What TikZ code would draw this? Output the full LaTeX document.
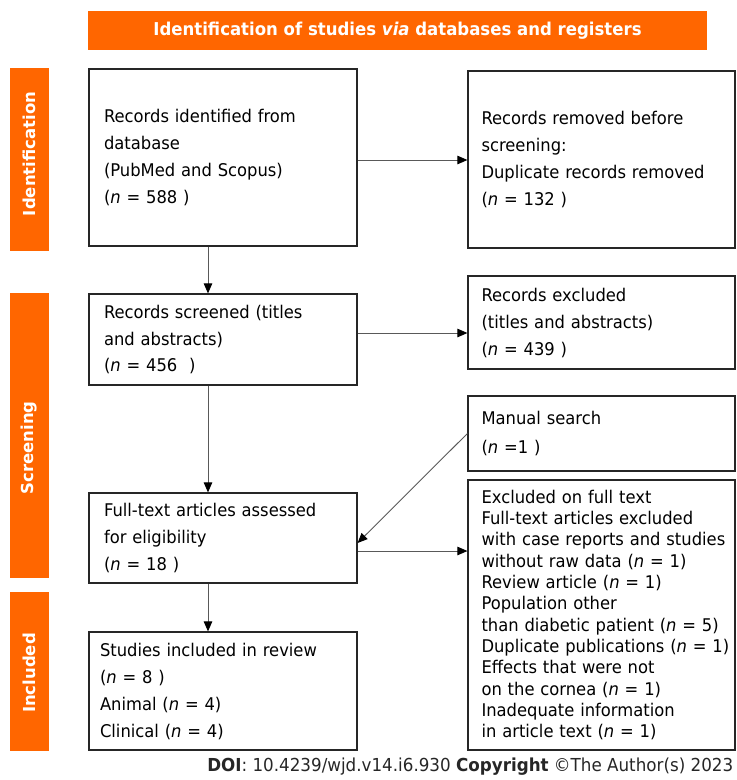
\documentclass[tikz,border=0pt]{standalone}
\usepackage{fontspec}
\setmainfont[FakeStretch=0.935]{DejaVu Sans}
\newfontfamily\stagefont{DejaVu Sans}
\usetikzlibrary{arrows.meta}
\definecolor{prismaorange}{RGB}{255,102,0}

\begin{document}
\def\boxw{268pt}
\def\stepgap{-15pt}

\begin{tikzpicture}[x=1pt,y=-1pt,->,>={Triangle[length=10pt,width=8.5pt,black]},line width=0.9pt,draw=black!65]
    \tikzstyle{every node}=[font=\fontsize{17.5}{27}\selectfont]
    \tikzstyle{bar}=[fill=prismaorange,inner sep=0pt,minimum width=39pt]
    \tikzstyle{stage}=[text=white,rotate=90,inner sep=0pt,font=\stagefont\fontsize{16.5}{20}\selectfont\bfseries]
    \tikzstyle{record}=[rectangle,draw=black!85,line width=1.2pt,minimum width=\boxw,text width=238pt,inner xsep=15pt,align=left]
    \tikzstyle{side record}=[record,minimum width=267pt,text width=240pt,inner xsep=13.5pt]

    \useasboundingbox (0,0) rectangle (737,780);

    % Draw the header
    \node[fill=prismaorange,text=white,minimum width=619pt,minimum height=39pt,font=\fontsize{17.7}{20}\selectfont\bfseries] (head) at (397.5,30.5) {Identification of studies \textit{via} databases and registers};

    % Draw the stage bars on the left
    \node[bar,minimum height=183pt] (id-bar) at (29.5,159.5) {};
    \node[bar,minimum height=285pt] (sc-bar) at (29.5,435.5) {};
    \node[bar,minimum height=159pt] (in-bar) at (29.5,671.5) {};
    \node[stage] (id-lab) at (29.5,154) {Identification};
    \node[stage] (sc-lab) at (29.5,448) {Screening};
    \node[stage] (in-lab) at (29.5,673) {Included};

    % Draw the left column
    \node[record,minimum height=177pt] (ident) at (223,157.5) {Records identified from\\database\\(PubMed and Scopus)\\(\textit{n} = 588 )};
    \node[record,minimum height=91pt] (screened) at (223,339.5) {Records screened (titles\\and abstracts)\\(\textit{n} = 456\ \ )};
    \node[record,minimum height=90pt] (assessed) at (223,538) {Full-text articles assessed\\for eligibility\\(\textit{n} = 18 )};
    \node[record,minimum height=118pt,inner xsep=11pt,text width=246pt] (incl) at (223,691) {Studies included in review\\(\textit{n} = 8 )\\Animal (\textit{n} = 4)\\Clinical (\textit{n} = 4)};

    % Draw the right column
    \node[side record,minimum height=177pt] (removed) at (601.5,159.5) {Records removed before\\screening:\\Duplicate records removed\\(\textit{n} = 132 )};
    \node[side record,minimum height=93pt] (excluded) at (601.5,322.5) {Records excluded\\(titles and abstracts)\\(\textit{n} = 439 )};
    \node[side record,minimum height=75pt,font=\fontsize{17.5}{29}\selectfont] (manual) at (601.5,433.5) {Manual search\\(\textit{n} =1 )};
    \node[side record,minimum height=270pt,font=\fontsize{17.5}{21.3}\selectfont] (fullexcl) at (601.5,615) {Excluded on full text\\Full-text articles excluded\\\mbox{with case reports and studies}\\without raw data (\textit{n} = 1)\\Review article (\textit{n} = 1)\\Population other\\than diabetic patient (\textit{n} = 5)\\\mbox{Duplicate publications (\textit{n} = 1)}\\Effects that were not\\on the cornea (\textit{n} = 1)\\Inadequate information\\in article text (\textit{n} = 1)};

    % Connect the boxes
    \path ([yshift=-2.5pt]ident.east) edge ([yshift=-2.5pt]ident.east -| removed.west);
    \path ([xshift=\stepgap]ident.south) edge ([xshift=\stepgap]screened.north);
    \path ([yshift=6.5pt]screened.east) edge ([yshift=6.5pt]screened.east -| excluded.west);
    \path ([xshift=\stepgap]screened.south) edge ([xshift=\stepgap]assessed.north);
    \path (manual.west) edge ([yshift=-5pt]assessed.east);
    \path ([yshift=-13pt]assessed.east) edge ([yshift=-13pt]assessed.east -| fullexcl.west);
    \path ([xshift=\stepgap]assessed.south) edge ([xshift=\stepgap]incl.north);

    % Credit line
    \node[anchor=east,text=black!85,font=\fontsize{17.9}{20}\selectfont] (doi) at (737,767) {\textbf{DOI}: 10.4239/wjd.v14.i6.930 \textbf{Copyright} ©The Author(s) 2023};
\end{tikzpicture}
\end{document}
